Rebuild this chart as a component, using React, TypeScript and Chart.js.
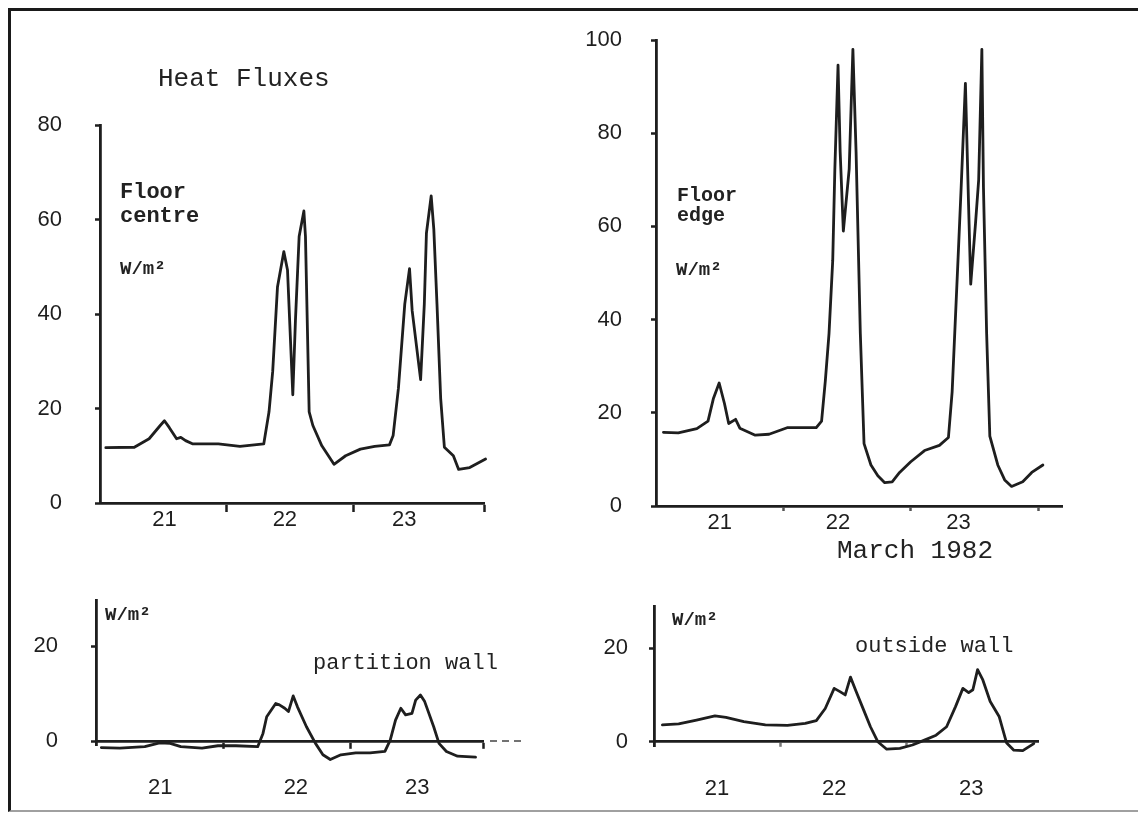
import React, { useEffect, useRef } from 'react';
import { Chart, registerables } from 'chart.js';

Chart.register(...registerables);

const W = 1138;
const H = 817;
const INK = '#1e1e1e';
const NUM_FONT = '"Liberation Sans", "DejaVu Sans", sans-serif';
const MONO = '"Liberation Mono", "DejaVu Sans Mono", monospace';

// ---- Floor centre (hours from start of 21 March, W/m2) ----
const centreHours = [1.1, 6.5, 9.3, 11.4, 12.2, 13.1, 14.5, 15.3, 16.2, 17.6, 22.4, 26.5, 31.0, 32.0, 32.7, 33.6, 34.8, 35.5, 36.5, 37.0, 37.7, 38.6, 38.9, 39.6, 40.3, 42.0, 44.3, 46.5, 49.3, 52.0, 54.8, 55.5, 56.5, 57.7, 58.6, 59.1, 60.7, 61.4, 61.8, 62.7, 63.2, 63.8, 64.5, 65.2, 66.9, 67.9, 70.0, 73.0];
const centreFlux = [11.7, 11.8, 13.6, 16.4, 17.4, 16.0, 13.6, 13.9, 13.2, 12.5, 12.5, 12.0, 12.5, 19.3, 27.9, 45.7, 53.2, 49.3, 22.9, 38.6, 56.4, 61.8, 56.4, 19.3, 16.4, 12.1, 8.2, 10.0, 11.4, 12.0, 12.3, 14.3, 24.3, 42.1, 49.6, 40.7, 26.1, 42.1, 57.1, 65.0, 57.9, 42.1, 22.1, 11.8, 10.0, 7.1, 7.5, 9.3];

// ---- Floor edge ----
const edgeHours = [1.4, 4.2, 7.7, 9.8, 10.8, 11.9, 12.9, 13.7, 15.0, 15.8, 18.7, 21.3, 24.7, 28.2, 30.2, 31.2, 31.9, 32.6, 33.3, 33.7, 34.3, 34.7, 35.3, 36.4, 37.1, 37.7, 38.5, 39.2, 40.5, 41.8, 43.1, 44.5, 45.9, 48.0, 50.6, 53.4, 55.1, 55.8, 56.9, 57.5, 58.3, 58.9, 59.3, 60.2, 60.8, 61.4, 61.7, 62.3, 62.9, 64.4, 65.7, 67.0, 69.1, 70.8, 72.9];
const edgeFlux = [15.8, 15.7, 16.6, 18.2, 23.0, 26.4, 22.0, 17.7, 18.6, 16.7, 15.2, 15.4, 16.8, 16.8, 16.8, 18.2, 26.8, 37.0, 52.7, 72.3, 94.6, 76.0, 59.0, 72.3, 98.0, 76.0, 37.0, 13.4, 8.8, 6.5, 5.0, 5.2, 7.2, 9.5, 11.9, 13.0, 14.7, 24.5, 52.7, 68.4, 90.7, 64.5, 47.6, 60.6, 70.0, 98.0, 68.4, 37.0, 15.0, 8.8, 5.6, 4.2, 5.2, 7.2, 8.8];

// ---- Partition wall ----
const partitionHours = [1.0, 4.5, 9.2, 12.0, 14.0, 16.0, 20.0, 23.0, 26.4, 30.5, 31.5, 32.2, 33.9, 34.6, 35.6, 36.3, 37.2, 38.0, 39.7, 41.4, 42.8, 44.2, 46.2, 49.0, 51.7, 54.5, 55.5, 56.5, 57.5, 58.4, 59.6, 60.3, 61.2, 62.0, 63.7, 64.7, 66.1, 68.2, 71.6];
const partitionFlux = [-1.4, -1.5, -1.2, -0.4, -0.5, -1.2, -1.5, -1.0, -1.0, -1.2, 1.6, 5.1, 7.9, 7.6, 6.9, 6.2, 9.5, 7.2, 3.0, -0.5, -2.9, -3.9, -2.9, -2.5, -2.5, -2.2, 0.2, 4.4, 6.9, 5.5, 5.8, 8.6, 9.7, 8.3, 3.0, -0.5, -2.2, -3.2, -3.4];

// ---- Outside wall ----
const outsideHours = [1.6, 4.7, 8.1, 11.6, 13.7, 17.1, 21.2, 25.4, 28.8, 30.9, 32.6, 34.3, 35.4, 36.4, 37.4, 38.5, 39.9, 41.2, 42.6, 44.3, 46.8, 49.2, 51.6, 53.7, 55.7, 57.4, 58.8, 59.9, 60.7, 61.6, 62.6, 64.0, 65.7, 67.1, 68.5, 70.2, 72.3];
const outsideFlux = [3.6, 3.8, 4.6, 5.5, 5.2, 4.3, 3.6, 3.5, 3.9, 4.5, 7.1, 11.4, 10.7, 10.0, 13.8, 10.7, 6.8, 3.2, 0.0, -1.6, -1.4, -0.7, 0.4, 1.4, 3.2, 7.5, 11.4, 10.5, 11.1, 15.4, 13.2, 8.6, 5.4, -0.2, -1.8, -1.9, -0.4];

// ---- Axis labels / ticks ----
const dayNames = ['21', '22', '23'];
const centreDayLabelHours = [12.2, 35.0, 57.6];
const edgeDayLabelHours = [12.0, 34.3, 57.0];
const partitionDayLabelHours = [12.1, 37.7, 60.6];
const outsideDayLabelHours = [12.0, 34.3, 60.4];
const centreDayMarks = [24, 48, 72.7];
const edgeDayMarks = [24, 48, 72];
const partitionDayMarks = [24, 48, 73];
const outsideDayMarks = [24, 48];
const centreYTicks = [0, 20, 40, 60, 80];
const edgeYTicks = [0, 20, 40, 60, 80, 100];
const wallYTicks = [0, 20];

type TextItem = { text: string; x: number; y: number; font: string };

type Panel = {
  hours: number[];
  flux: number[];
  labelHours: number[];
  marks: number[];
  yTicks: number[];
  xMax: number;
  yMin: number;
  yMax: number;
  area: { l: number; t: number; r: number; b: number };
  xAtZero: boolean;
  xTickLen: number;
  xTickColor: string;
  xPad: number;
  yPad: number;
  texts: TextItem[];
  dashedTail?: boolean;
};

const LABEL_BOLD = `bold 22px ${MONO}`;
const LABEL_BOLD_SMALL = `bold 20px ${MONO}`;
const UNIT_BOLD = `bold 19px ${MONO}`;
const TITLE = `26px ${MONO}`;
const NOTE = `22px ${MONO}`;

const panels: Panel[] = [
  {
    hours: centreHours, flux: centreFlux, labelHours: centreDayLabelHours, marks: centreDayMarks,
    yTicks: centreYTicks, xMax: 72.7, yMin: 0, yMax: 80,
    area: { l: 100, t: 125, r: 484, b: 503 }, xAtZero: false,
    xTickLen: 9, xTickColor: INK, xPad: -3, yPad: 33,
    texts: [
      { text: 'Heat Fluxes', x: 158, y: 86, font: TITLE },
      { text: 'Floor', x: 120, y: 198, font: LABEL_BOLD },
      { text: 'centre', x: 120, y: 222, font: LABEL_BOLD },
      { text: 'W/m²', x: 120, y: 274, font: UNIT_BOLD },
    ],
  },
  {
    hours: edgeHours, flux: edgeFlux, labelHours: edgeDayLabelHours, marks: edgeDayMarks,
    yTicks: edgeYTicks, xMax: 76.5, yMin: 0, yMax: 100,
    area: { l: 656, t: 36, r: 1062, b: 506 }, xAtZero: false,
    xTickLen: 5, xTickColor: '#555', xPad: 1, yPad: 29,
    texts: [
      { text: 'Floor', x: 677, y: 201, font: LABEL_BOLD_SMALL },
      { text: 'edge', x: 677, y: 221, font: LABEL_BOLD_SMALL },
      { text: 'W/m²', x: 676, y: 275, font: UNIT_BOLD },
      { text: 'March 1982', x: 837, y: 558, font: TITLE },
    ],
  },
  {
    hours: partitionHours, flux: partitionFlux, labelHours: partitionDayLabelHours, marks: partitionDayMarks,
    yTicks: wallYTicks, xMax: 73, yMin: -1, yMax: 29.7,
    area: { l: 96, t: 600, r: 483, b: 745.75 }, xAtZero: true,
    xTickLen: 6, xTickColor: INK, xPad: 30, yPad: 33,
    texts: [
      { text: 'W/m²', x: 105, y: 620, font: UNIT_BOLD },
      { text: 'partition wall', x: 313, y: 669, font: NOTE },
    ],
    dashedTail: true,
  },
  {
    hours: outsideHours, flux: outsideFlux, labelHours: outsideDayLabelHours, marks: outsideDayMarks,
    yTicks: wallYTicks, xMax: 73.1, yMin: -1, yMax: 29,
    area: { l: 654, t: 606, r: 1038, b: 746.4 }, xAtZero: true,
    xTickLen: 4, xTickColor: '#777', xPad: 32, yPad: 21,
    texts: [
      { text: 'W/m²', x: 672, y: 625, font: UNIT_BOLD },
      { text: 'outside wall', x: 855, y: 652, font: NOTE },
    ],
  },
];

function makeTextPlugin(p: Panel) {
  return {
    id: 'panelText',
    afterDraw(chart: any) {
      const ctx = chart.ctx as CanvasRenderingContext2D;
      ctx.save();
      ctx.fillStyle = '#222';
      ctx.textAlign = 'left';
      ctx.textBaseline = 'alphabetic';
      for (const t of p.texts) {
        ctx.font = t.font;
        ctx.fillText(t.text, t.x, t.y);
      }
      if (p.dashedTail) {
        const xs = chart.scales.x;
        const ys = chart.scales.y;
        const y0 = ys.getPixelForValue(0);
        ctx.strokeStyle = '#444';
        ctx.lineWidth = 1.5;
        ctx.setLineDash([7, 5]);
        ctx.beginPath();
        ctx.moveTo(xs.right + 7, y0);
        ctx.lineTo(xs.right + 40, y0);
        ctx.stroke();
      }
      ctx.restore();
    },
  };
}

function buildConfig(p: Panel): any {
  const yW = 85;
  const xH = 40;
  const numFont = { family: NUM_FONT, size: 22, lineHeight: 1 };
  return {
    type: 'line',
    data: {
      datasets: [
        {
          data: p.hours.map((h, i) => ({ x: h, y: p.flux[i] })),
          borderColor: INK,
          borderWidth: 2.8,
          pointRadius: 0,
          tension: 0,
          clip: false,
          borderJoinStyle: 'round',
          borderCapStyle: 'round',
          fill: false,
        },
      ],
    },
    options: {
      responsive: false,
      animation: false,
      devicePixelRatio: 1,
      events: [],
      layout: {
        padding: {
          left: p.area.l - yW,
          top: p.area.t,
          right: W - p.area.r,
          bottom: p.xAtZero ? H - p.area.b : H - p.area.b - xH,
        },
      },
      plugins: {
        legend: { display: false },
        tooltip: { enabled: false },
        title: { display: false },
      },
      scales: {
        x: {
          type: 'linear',
          min: 0,
          max: p.xMax,
          position: p.xAtZero ? { y: 0 } : 'bottom',
          afterFit: (s: any) => { s.height = xH; },
          afterBuildTicks: (s: any) => {
            s.ticks = [...p.labelHours, ...p.marks].sort((a, b) => a - b).map((v) => ({ value: v }));
          },
          ticks: {
            autoSkip: false,
            maxRotation: 0,
            minRotation: 0,
            padding: p.xPad,
            color: INK,
            font: numFont,
            callback: (v: number) => {
              const i = p.labelHours.indexOf(v);
              return i >= 0 ? dayNames[i] : '';
            },
          },
          grid: {
            display: true,
            drawOnChartArea: false,
            drawTicks: true,
            tickLength: p.xTickLen,
            tickWidth: 2.5,
            tickColor: (ctx: any) =>
              ctx.tick && p.labelHours.includes(ctx.tick.value) ? 'rgba(0,0,0,0)' : p.xTickColor,
          },
          border: { display: true, color: INK, width: 2.8 },
        },
        y: {
          type: 'linear',
          min: p.yMin,
          max: p.yMax,
          position: 'left',
          afterFit: (s: any) => { s.width = yW; },
          afterBuildTicks: (s: any) => {
            s.ticks = p.yTicks.map((v) => ({ value: v }));
          },
          ticks: {
            crossAlign: 'near',
            padding: p.yPad,
            color: INK,
            font: numFont,
            callback: (v: number) => String(v),
          },
          grid: {
            display: true,
            drawOnChartArea: false,
            drawTicks: true,
            tickLength: 5,
            tickWidth: 2.5,
            tickColor: INK,
          },
          border: { display: true, color: INK, width: 2.8 },
        },
      },
    },
    plugins: [makeTextPlugin(p)],
  };
}

export default function App() {
  const refs = useRef<(HTMLCanvasElement | null)[]>([]);

  useEffect(() => {
    const charts = panels.map((p, i) => new Chart(refs.current[i] as HTMLCanvasElement, buildConfig(p)));
    return () => charts.forEach((c) => c.destroy());
  }, []);

  return (
    <div style={{ position: 'absolute', left: 0, top: 0, width: W, height: H, background: '#ffffff', overflow: 'hidden' }}>
      <div
        style={{
          position: 'absolute', left: 8, top: 8, width: W - 8, height: 804,
          borderTop: '3px solid #1a1a1a', borderLeft: '3px solid #1a1a1a', borderBottom: '2px solid #a0a0a0',
          boxSizing: 'border-box',
        }}
      />
      {panels.map((_, i) => (
        <canvas
          key={i}
          ref={(el) => { refs.current[i] = el; }}
          width={W}
          height={H}
          style={{ position: 'absolute', left: 0, top: 0, width: W, height: H }}
        />
      ))}
    </div>
  );
}
